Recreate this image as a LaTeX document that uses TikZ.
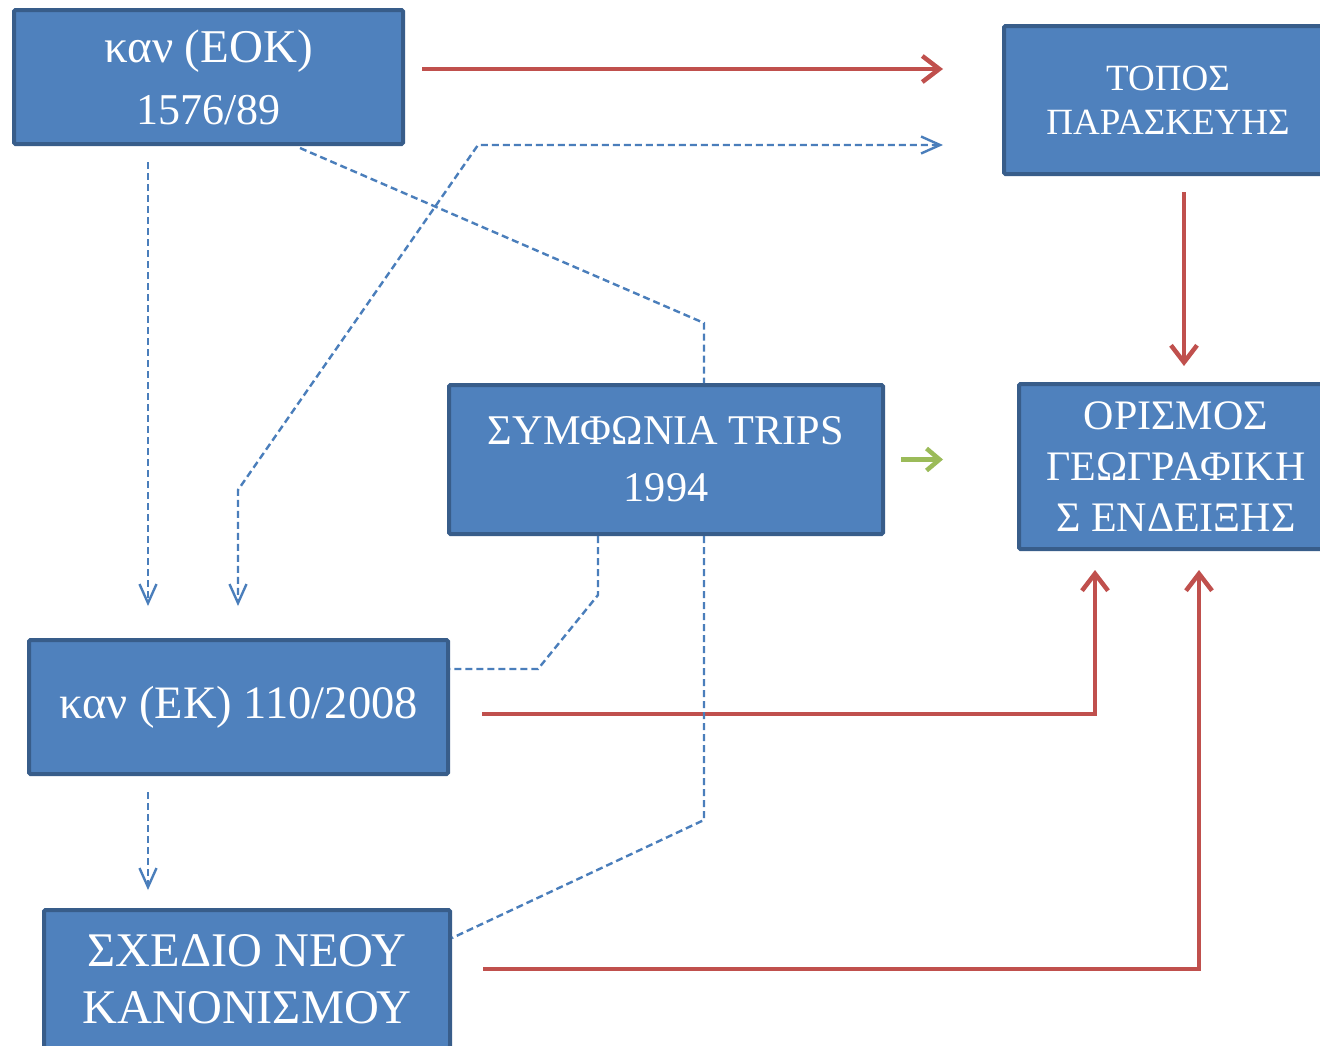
\documentclass[tikz,border=0pt]{standalone}
\usepackage{fontspec}
\setmainfont{Liberation Serif}
\usetikzlibrary{arrows.meta,calc}
\definecolor{boxfill}{HTML}{4F81BD}
\definecolor{boxline}{HTML}{385D8A}
\definecolor{redline}{HTML}{C0504D}
\definecolor{greenline}{HTML}{9BBB59}
\definecolor{blueline}{HTML}{4A7EBB}
\tikzset{bluetip/.tip={Straight Barb[length=19pt,width=17pt,line width=2.4pt]}}
\begin{document}
\begin{tikzpicture}[x=1pt,y=-1pt,
  box/.style={draw=boxline, fill=boxfill, line width=4pt, text=white, align=center, inner sep=0pt, rounded corners=1.5pt},
  redarrow/.style={draw=redline, line width=4.5pt, -{Straight Barb[length=17pt,width=26pt]}},
  greenarrow/.style={draw=greenline, line width=4.5pt, -{Straight Barb[length=13pt,width=22pt]}},
  blueconn/.style={draw=blueline, line width=2.4pt, dash pattern=on 7pt off 4pt}
]
\clip (0,0) rectangle (1320,1045);
\fill[white] (0,0) rectangle (1320,1045);

\node[box, minimum width=389pt, minimum height=134pt, font=\fontsize{47}{62}\selectfont] (eok) at (208.5,77) {καν (ΕΟΚ)\\\fontsize{44}{62}\selectfont 1576/89};
\node[box, minimum width=328pt, minimum height=148pt, font=\fontsize{37}{44}\selectfont] (topos) at (1168,100) {ΤΟΠΟΣ\\ΠΑΡΑΣΚΕΥΗΣ};
\node[box, minimum width=434pt, minimum height=149pt, font=\fontsize{42.3}{57}\selectfont] (trips) at (666,459.5) {ΣΥΜΦΩΝΙΑ TRIPS\\1994};
\node[box, minimum width=314pt, minimum height=165pt, font=\fontsize{42}{51}\selectfont] (orismos) at (1176,466.5) {ΟΡΙΣΜΟΣ\\ΓΕΩΓΡΑΦΙΚΗ\\Σ ΕΝΔΕΙΞΗΣ};
\node[box, minimum width=419pt, minimum height=134pt, font=\fontsize{46.5}{57}\selectfont] (ek) at (238.5,707) {\raisebox{-2pt}{καν (ΕΚ) 110/2008}};
\node[box, minimum width=406pt, minimum height=138pt, font=\fontsize{48.3}{57}\selectfont] (sxedio) at (247,979) {ΣΧΕΔΙΟ ΝΕΟΥ\\ΚΑΝΟΝΙΣΜΟΥ};

% red connectors
\draw[redarrow] ($(eok.east)+(17,-8)$) -- ($(eok.east -| topos.west)+(-59,-8)$);
\draw[redarrow] ($(topos.south)+(16,16)$) -- ($(orismos.north)+(8,-16)$);
\draw[redarrow] ($(ek.east)+(32,7)$) -| ($(orismos.south)+(-81,19)$);
\draw[redarrow] ($(sxedio.east)+(31,-10)$) -| ($(orismos.south)+(23,19)$);

% green connector
\draw[greenarrow] ($(trips.east)+(16,0)$) -- ($(trips.east -| orismos.west)+(-74,0)$);

% blue dashed connectors
\coordinate (b2a) at (478,145);
\coordinate (b2b) at (238,490);
\coordinate (b3a) at (704,323);
\coordinate (b4a) at (598,595);
\coordinate (b4b) at (538,669);
\coordinate (b5a) at (704,820);

\draw[blueconn, -{bluetip}] ($(eok.south)+(-60.5,16)$) -- ($(ek.north)+(-90.5,-32)$);
\draw[blueconn, {bluetip}-{bluetip}] ($(topos.west)+(-59,45)$) -- (b2a) -- (b2b) -- ($(ek.north)+(-0.5,-32)$);
\draw[blueconn] ($(eok.south)+(91.5,2)$) -- (b3a) -- ($(trips.north)+(38,0)$);
\draw[blueconn] ($(trips.south)+(-68,0)$) -- (b4a) -- (b4b) -- (b4b -| ek.east);
\draw[blueconn] ($(trips.south)+(38,0)$) -- (b5a) -- ($(sxedio.east)+(0,-41)$);
\draw[blueconn, -{bluetip}] ($(ek.south)+(-90.5,16)$) -- ($(sxedio.north)+(-99,-18)$);
\end{tikzpicture}
\end{document}
